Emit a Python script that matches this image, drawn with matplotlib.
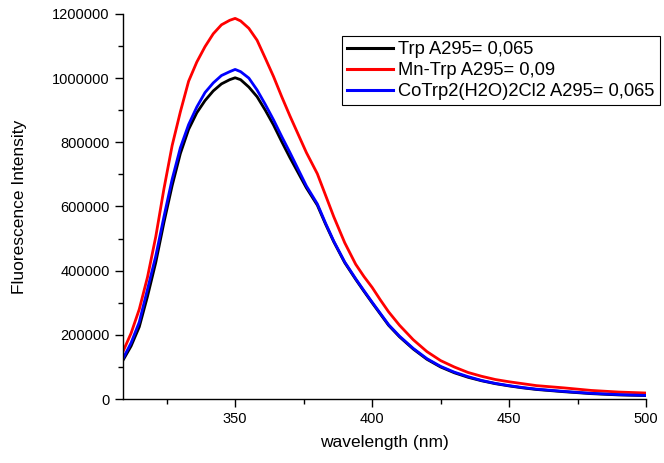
import matplotlib
matplotlib.use("Agg")
import matplotlib.pyplot as plt
from matplotlib.ticker import MultipleLocator

plt.rcParams['font.family'] = ['Liberation Sans', 'DejaVu Sans']

wavelength = [309, 312, 315, 318, 321, 324, 327, 330, 333, 336, 339, 342, 345, 348,
              350, 352, 355, 358, 361, 364, 367, 370, 373, 376, 380, 383, 386, 390,
              394, 397, 400, 403, 406, 410, 415, 420, 425, 430, 435, 440, 445, 450,
              455, 460, 470, 480, 490, 500]

trp = [120, 165, 225, 320, 425, 550, 665, 765, 840, 892, 930, 960, 982, 995,
       1001, 995, 972, 942, 900, 854, 802, 752, 705, 658, 604, 545, 490, 425,
       373, 336, 300, 265, 230, 194, 156, 124, 100, 82, 68, 57, 48, 41,
       35, 30, 23, 17, 13, 11]

mn_trp = [147, 205, 280, 380, 505, 655, 790, 895, 990, 1050, 1098, 1138, 1166, 1180,
          1186, 1178, 1155, 1118, 1062, 1005, 942, 882, 825, 768, 702, 635, 568, 487,
          420, 382, 348, 309, 272, 230, 185, 148, 120, 100, 83, 71, 61, 54,
          48, 42, 35, 27, 22, 19]

co_trp = [125, 175, 240, 342, 445, 568, 685, 783, 855, 910, 955, 985, 1008, 1020,
          1027, 1020, 1000, 963, 918, 870, 818, 768, 716, 664, 608, 548, 492, 427,
          375, 338, 302, 267, 232, 196, 158, 126, 102, 84, 70, 58, 49, 42,
          36, 31, 24, 18, 14, 11.5]

labels = ["Trp A295= 0,065", "Mn-Trp A295= 0,09", "CoTrp2(H2O)2Cl2 A295= 0,065"]
colors = ["#000000", "#ff0000", "#0000ff"]

fig = plt.figure(figsize=(6.64, 4.63), dpi=100)
ax = fig.add_axes([0.185, 0.138, 0.788, 0.832])

for ys, lab, c in zip([trp, mn_trp, co_trp], labels, colors):
    ax.plot(wavelength, [v * 1000 for v in ys], color=c, lw=2.0, label=lab)

ax.set_xlim(309, 500)
ax.set_ylim(0, 1200000)
ax.xaxis.set_major_locator(MultipleLocator(50))
ax.xaxis.set_minor_locator(MultipleLocator(25))
ax.yaxis.set_major_locator(MultipleLocator(200000))
ax.yaxis.set_minor_locator(MultipleLocator(100000))
ax.yaxis.set_major_formatter(matplotlib.ticker.FuncFormatter(lambda v, p: f"{int(v)}"))

for s in ["top", "right"]:
    ax.spines[s].set_visible(False)
for s in ["left", "bottom"]:
    ax.spines[s].set_linewidth(1.0)
ax.tick_params(which='major', direction='out', length=6, width=1.0, labelsize=10.5)
ax.tick_params(which='minor', direction='out', length=3.5, width=1.0)

ax.set_xlabel("wavelength (nm)", fontsize=12.5, labelpad=6)
ax.set_ylabel("Fluorescence Intensity", fontsize=12.5, labelpad=18)

leg = ax.legend(loc='upper left', bbox_to_anchor=(342 / 664, 1 - 36 / 463),
                bbox_transform=fig.transFigure, fontsize=13.2, frameon=True,
                fancybox=False, edgecolor='black', framealpha=1,
                handlelength=2.5, handletextpad=0.3, labelspacing=0.22,
                borderpad=0.28, borderaxespad=0)
leg.get_frame().set_linewidth(0.8)
for l in leg.get_lines():
    l.set_linewidth(2.2)

fig.savefig("out.png", dpi=100)
